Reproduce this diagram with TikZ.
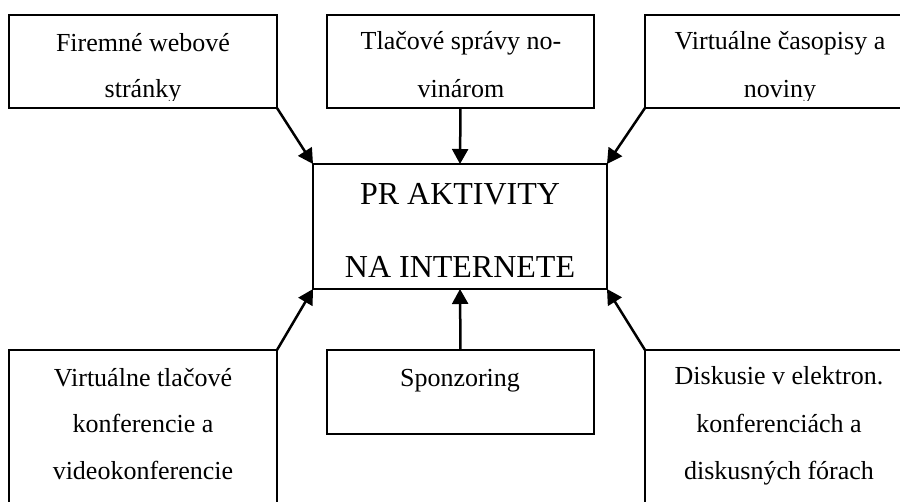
\documentclass[tikz,border=0pt]{standalone}
\usepackage{fontspec}
\setmainfont{Liberation Serif}
\usetikzlibrary{arrows.meta}
\tikzset{
  box/.style={draw, line width=2pt, inner sep=0pt, outer sep=0pt, anchor=north west},
  lbl/.style={anchor=base, inner sep=0pt, font=\fontsize{26}{30}\selectfont},
  biglbl/.style={anchor=base, inner sep=0pt, font=\fontsize{32}{36}\selectfont},
  arr/.style={line width=2.5pt, -{Triangle[length=15pt,width=16pt]}}
}
\begin{document}
\begin{tikzpicture}[x=1pt,y=-1pt]
\useasboundingbox (0,0) rectangle (900,502);
\clip (0,0) rectangle (900,502);

% frames
\node[box, minimum width=268pt, minimum height=93pt] (web) at (9,15) {};
\node[box, minimum width=267pt, minimum height=93pt] (press) at (327,15) {};
\node[box, minimum width=270pt, minimum height=93pt] (mag) at (645,15) {};
\node[box, minimum width=294pt, minimum height=125pt] (hub) at (313,164) {};
\node[box, minimum width=268pt, minimum height=170pt] (conf) at (9,350) {};
\node[box, minimum width=267pt, minimum height=84pt] (spon) at (327,350) {};
\node[box, minimum width=268pt, minimum height=170pt] (disc) at (645,350) {};

% upper row texts, cut off just above the lower frame edge
\begin{scope}
\clip (0,0) rectangle (900,101);
\node[lbl] (web1) at (143,52) {Firemné webové};
\node[lbl] (web2) at (143,98) {stránky};
\node[lbl] (press1) at (461,50) {Tlačové správy no-};
\node[lbl] (press2) at (461,98) {vinárom};
\node[lbl] (mag1) at (780,50) {Virtuálne časopisy a};
\node[lbl] (mag2) at (780,98) {noviny};
\end{scope}

% centre
\node[biglbl] (hub1) at (460,205) {PR AKTIVITY};
\node[biglbl] (hub2) at (460,278) {NA INTERNETE};

% lower row texts
\node[lbl] (conf1) at (143,387) {Virtuálne tlačové};
\node[lbl] (conf2) at (143,433) {konferencie a};
\node[lbl] (conf3) at (143,480) {videokonferencie};
\node[lbl] (spon1) at (460,387) {Sponzoring};
\node[lbl] (disc1) at (779,385) {Diskusie v elektron.};
\node[lbl] (disc2) at (779,433) {konferenciách a};
\node[lbl] (disc3) at (779,480) {diskusných fórach};

% connectors
\draw[arr] (web.south east) -- (hub.north west);
\draw[arr] (press.south) -- (hub.north);
\draw[arr] (mag.south west) -- (hub.north east);
\draw[arr] (conf.north east) -- (hub.south west);
\draw[arr] (spon.north) -- (hub.south);
\draw[arr] (disc.north west) -- (hub.south east);
\end{tikzpicture}
\end{document}
